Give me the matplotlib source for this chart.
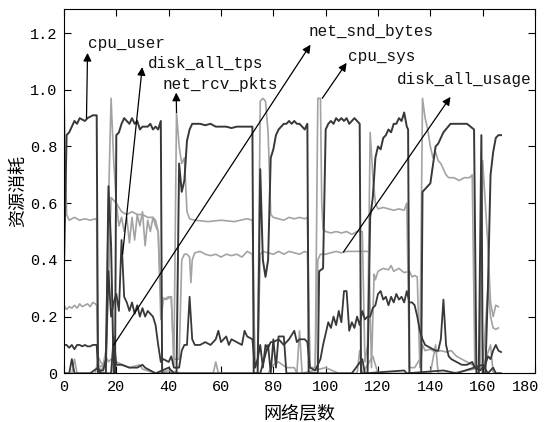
import matplotlib
matplotlib.use('Agg')
import matplotlib.pyplot as plt
import matplotlib.transforms as mtransforms

# ---- data (x = layer index, y = normalised usage) ----
cpu_user_x = [0, 1, 2, 4, 5, 6, 8, 9, 11, 12.5, 13, 16, 17, 18, 19, 19.5, 20, 21, 22, 23, 24, 25, 26,
              27, 28, 29, 30, 32, 33, 34, 35, 36, 37, 37.5, 43, 44, 45, 46, 47, 48, 49, 50, 52, 54, 56,
              58, 60, 62, 64, 66, 68, 70, 72, 72.5, 74, 75, 76, 77, 78, 79, 80, 81, 82, 83, 84, 85, 86,
              87, 88, 89, 90, 91, 92, 93, 93.5, 97, 97.5, 99, 100, 101, 102, 103, 104, 105, 106, 107,
              108, 109, 110, 111, 112, 113, 113.5, 116, 117, 118, 119, 120, 121, 122, 123, 124, 125,
              126, 127, 128, 129, 130, 131, 131.5, 132, 136.5, 137, 140, 142, 143, 145, 147.7, 150,
              154, 156.7, 157.6, 158.5, 159.5, 160, 161, 162, 163, 164, 165, 166, 167]
cpu_user = [0.37, 0.84, 0.85, 0.89, 0.88, 0.90, 0.89, 0.90, 0.91, 0.91, 0.0, 0.0, 0.66, 0.45, 0.0, 0.0,
            0.84, 0.85, 0.88, 0.90, 0.89, 0.88, 0.90, 0.88, 0.89, 0.86, 0.87, 0.87, 0.88, 0.86, 0.87,
            0.86, 0.89, 0.0, 0.0, 0.74, 0.64, 0.68, 0.82, 0.86, 0.88, 0.88, 0.88, 0.875, 0.88, 0.87,
            0.87, 0.87, 0.865, 0.87, 0.87, 0.87, 0.87, 0.0, 0.0, 0.72, 0.40, 0.34, 0.40, 0.76, 0.79,
            0.84, 0.86, 0.87, 0.88, 0.88, 0.89, 0.88, 0.89, 0.88, 0.88, 0.87, 0.86, 0.88, 0.0, 0.0,
            0.36, 0.37, 0.86, 0.88, 0.89, 0.88, 0.90, 0.89, 0.90, 0.89, 0.90, 0.88, 0.89, 0.90, 0.89,
            0.88, 0.0, 0.0, 0.55, 0.62, 0.76, 0.80, 0.79, 0.83, 0.84, 0.86, 0.85, 0.88, 0.88, 0.90,
            0.89, 0.92, 0.87, 0.86, 0.0, 0.0, 0.64, 0.67, 0.80, 0.81, 0.85, 0.88, 0.88, 0.88, 0.86,
            0.0, 0.0, 0.84, 0.0, 0.0, 0.30, 0.70, 0.78, 0.83, 0.84, 0.84]

cpu_sys_x = [0, 1, 2, 4, 6, 8, 10, 12, 12.5, 13, 15, 16, 17, 18, 19, 20, 21, 22, 23, 24, 25, 26, 27,
             28, 29, 30, 31, 32, 33, 34, 35, 36, 37, 38, 40, 41, 42, 43, 44, 45, 46, 47, 48, 50, 55,
             60, 65, 70, 72, 73, 74, 75, 76, 77, 78, 79, 80, 82, 84, 86, 88, 90, 92, 93, 94, 96, 97,
             98, 98.5, 99, 100, 102, 104, 106, 108, 110, 112, 114, 115, 116, 117, 118, 119, 120, 122,
             124, 126, 128, 130, 131, 132, 134, 136, 137, 138, 139, 140, 141, 142, 143, 144, 145, 146,
             147, 149, 151, 153, 155, 156, 157, 159, 160, 161, 162, 163, 164, 165, 166]
cpu_sys = [0.98, 0.56, 0.54, 0.55, 0.54, 0.545, 0.54, 0.545, 0.54, 0.02, 0.03, 0.08, 0.60, 0.97, 0.75,
           0.60, 0.52, 0.55, 0.50, 0.55, 0.46, 0.55, 0.47, 0.56, 0.52, 0.57, 0.45, 0.54, 0.50, 0.55,
           0.52, 0.50, 0.19, 0.26, 0.27, 0.27, 0.03, 0.92, 0.80, 0.74, 0.76, 0.57, 0.545, 0.54, 0.535,
           0.54, 0.535, 0.545, 0.54, 0.02, 0.05, 0.96, 0.97, 0.96, 0.85, 0.56, 0.55, 0.545, 0.54,
           0.55, 0.545, 0.55, 0.545, 0.55, 0.02, 0.02, 0.97, 0.97, 0.60, 0.51, 0.50, 0.495, 0.50,
           0.495, 0.50, 0.49, 0.50, 0.50, 0.04, 0.10, 0.85, 0.70, 0.60, 0.58, 0.585, 0.58, 0.575,
           0.58, 0.575, 0.60, 0.02, 0.02, 0.05, 0.97, 0.90, 0.86, 0.80, 0.76, 0.78, 0.75, 0.74, 0.72,
           0.70, 0.69, 0.69, 0.68, 0.69, 0.69, 0.70, 0.02, 0.02, 0.75, 0.60, 0.45, 0.25, 0.20, 0.24,
           0.235]

disk_usage_x = [0, 1, 2, 3, 4, 5, 6, 7, 8, 9, 10, 11, 12, 12.5, 13, 14, 16, 18, 20, 22, 24, 26, 28,
                30, 32, 34, 35, 36, 37, 39, 41, 42, 44, 45, 46, 47, 48, 48.5, 49, 50, 52, 54, 56, 58,
                60, 62, 64, 66, 68, 70, 72, 73, 74, 75, 76, 78, 80, 82, 84, 86, 88, 90, 92, 93, 94, 96,
                97, 98, 100, 102, 104, 106, 108, 110, 112, 114, 116, 116.5, 117.5, 118.5, 119, 120,
                122, 124, 125, 126, 128, 130, 132, 133, 134, 135, 136, 137, 138, 140, 142, 144, 146,
                148, 150, 152, 154, 156, 157, 158, 160, 162, 163, 164, 165, 166]
disk_usage = [0.24, 0.225, 0.235, 0.23, 0.24, 0.23, 0.245, 0.235, 0.24, 0.245, 0.235, 0.25, 0.245,
              0.24, 0.06, 0.04, 0.02, 0.62, 0.60, 0.57, 0.56, 0.57, 0.56, 0.56, 0.55, 0.55, 0.54,
              0.50, 0.27, 0.26, 0.27, 0.05, 0.05, 0.40, 0.42, 0.42, 0.41, 0.32, 0.40, 0.425, 0.43,
              0.42, 0.415, 0.42, 0.41, 0.42, 0.415, 0.42, 0.41, 0.43, 0.42, 0.02, 0.03, 0.42, 0.43,
              0.425, 0.42, 0.43, 0.42, 0.43, 0.425, 0.42, 0.43, 0.425, 0.02, 0.02, 0.40, 0.42, 0.42,
              0.425, 0.43, 0.425, 0.43, 0.43, 0.43, 0.43, 0.43, 0.43, 0.02, 0.35, 0.33, 0.36, 0.37,
              0.365, 0.38, 0.36, 0.37, 0.355, 0.36, 0.34, 0.345, 0.34, 0.02, 0.10, 0.08, 0.085, 0.075,
              0.08, 0.075, 0.08, 0.06, 0.05, 0.04, 0.03, 0.02, 0.02, 0.02, 0.30, 0.20, 0.16, 0.155,
              0.16]

disk_tps_x = [0, 1, 2, 3, 4, 5, 6, 7, 8, 9, 10, 11, 12, 12.5, 13, 15, 16, 17, 18, 19, 20, 21, 22, 23,
              24, 25, 26, 27, 28, 29, 30, 31, 32, 33, 34, 35, 36, 37, 38, 40, 41, 42, 44, 45, 46, 47,
              48, 49, 50, 52, 54, 56, 58, 59, 60, 62, 63, 64, 66, 68, 69, 70, 72, 73, 74, 75, 76, 77,
              78, 79, 80, 82, 84, 86, 88, 89, 90, 92, 93, 94, 96, 98, 99, 100, 101, 102, 103, 104,
              105, 106, 107, 108, 109, 110, 111, 112, 113, 114, 115, 116, 117, 118, 119, 120, 121,
              122, 123, 124, 125, 126, 127, 128, 129, 130, 131, 132, 133, 134, 135, 136, 137, 138,
              140, 142, 143, 144, 145, 146, 147, 148, 150, 152, 154, 156, 157, 159, 161, 162, 163,
              164, 165, 166, 167]
disk_tps = [0.10, 0.10, 0.09, 0.10, 0.085, 0.10, 0.10, 0.095, 0.10, 0.095, 0.095, 0.10, 0.10, 0.10,
            0.01, 0.01, 0.05, 0.36, 0.20, 0.25, 0.28, 0.22, 0.47, 0.27, 0.25, 0.22, 0.25, 0.21, 0.24,
            0.20, 0.23, 0.20, 0.22, 0.21, 0.20, 0.17, 0.10, 0.04, 0.05, 0.04, 0.06, 0.02, 0.02, 0.08,
            0.10, 0.10, 0.27, 0.12, 0.10, 0.10, 0.11, 0.10, 0.12, 0.15, 0.11, 0.13, 0.10, 0.12, 0.11,
            0.10, 0.15, 0.13, 0.12, 0.02, 0.05, 0.10, 0.02, 0.10, 0.09, 0.11, 0.11, 0.12, 0.10, 0.12,
            0.15, 0.11, 0.12, 0.12, 0.11, 0.02, 0.01, 0.05, 0.10, 0.14, 0.18, 0.16, 0.20, 0.17, 0.22,
            0.18, 0.29, 0.29, 0.15, 0.18, 0.16, 0.20, 0.17, 0.22, 0.19, 0.20, 0.20, 0.23, 0.24, 0.28,
            0.29, 0.26, 0.27, 0.24, 0.27, 0.25, 0.28, 0.26, 0.27, 0.25, 0.29, 0.25, 0.25, 0.24, 0.20,
            0.15, 0.12, 0.10, 0.09, 0.08, 0.08, 0.12, 0.26, 0.10, 0.06, 0.05, 0.04, 0.03, 0.03, 0.04,
            0.02, 0.01, 0.03, 0.06, 0.05, 0.08, 0.10, 0.08, 0.075]

net_snd_x = [0, 2, 3, 4, 10, 13, 14, 17, 18, 19, 20, 22, 25, 28, 30, 31, 35, 40, 42, 52, 70, 75, 78,
             79, 80, 81, 82, 84, 85, 92, 96, 110, 114, 115, 130, 131, 145, 150, 160, 162, 164, 165,
             167]
net_snd = [0.0, 0.0, 0.05, 0.0, 0.0, 0.02, 0.0, 0.0, 0.0, 0.13, 0.03, 0.03, 0.02, 0.02, 0.03, 0.02,
           0.0, 0.02, 0.0, 0.0, 0.0, 0.0, 0.10, 0.0, 0.12, 0.02, 0.13, 0.13, 0.0, 0.0, 0.0, 0.0, 0.05,
           0.0, 0.01, 0.0, 0.01, 0.0, 0.03, 0.0, 0.02, 0.0, 0.0]

net_rcv_x = [0, 3, 4, 5, 12, 13, 14, 16, 17, 18, 20, 25, 29, 30, 35, 40, 45, 57, 58, 59, 73, 78, 80,
             82, 85, 88, 89, 90, 91, 100, 105, 112, 113, 114, 118, 120, 140, 142, 143, 148, 160, 163,
             164, 167]
net_rcv = [0.0, 0.0, 0.05, 0.0, 0.0, 0.05, 0.0, 0.06, 0.04, 0.05, 0.04, 0.02, 0.03, 0.015, 0.0, 0.01,
           0.0, 0.0, 0.04, 0.0, 0.0, 0.0, 0.03, 0.04, 0.02, 0.02, 0.0, 0.15, 0.0, 0.02, 0.0, 0.0,
           0.08, 0.0, 0.06, 0.0, 0.0, 0.10, 0.0, 0.0, 0.02, 0.10, 0.0, 0.0]

# label text, text anchor (left x, centre y), arrow tail (on the curve), arrow head (next to text)
labels = ['cpu_user', 'disk_all_tps', 'net_rcv_pkts', 'net_snd_bytes', 'cpu_sys', 'disk_all_usage']
text_pos = [(9.0, 1.165), (31.9, 1.094), (37.8, 1.018), (93.6, 1.206), (108.4, 1.118), (127.3, 1.035)]
arrow_tail = [(8.6, 0.90), (22.4, 0.42), (43.0, 0.92), (19.0, 0.10), (98.7, 0.97), (106.8, 0.428)]
arrow_head = [(9.0, 1.13), (29.9, 1.08), (42.9, 0.99), (94.2, 1.159), (108.0, 1.095), (147.7, 0.975)]

xticks = [0, 20, 40, 60, 80, 100, 120, 140, 160, 180]
yticks = [0, 0.2, 0.4, 0.6, 0.8, 1.0, 1.2]
ytick_labels = ['0', '0.2', '0.4', '0.6', '0.8', '1.0', '1.2']

plt.rcParams['font.family'] = ['Liberation Mono', 'Noto Sans CJK SC', 'DejaVu Sans']

fig = plt.figure(figsize=(5.45, 4.22), dpi=100)
ax = fig.add_axes([0.1174, 0.1154, 0.8643, 0.8633])

light = '#a3a3a3'
dark = '#383838'
ax.plot(cpu_sys_x, cpu_sys, color=light, lw=1.2)
ax.plot(disk_usage_x, disk_usage, color=light, lw=1.2)
ax.plot(net_rcv_x, net_rcv, color=light, lw=1.2)
ax.plot(disk_tps_x, disk_tps, color=dark, lw=1.3)
ax.plot(net_snd_x, net_snd, color=dark, lw=1.3)
ax.plot(cpu_user_x, cpu_user, color=dark, lw=1.4)

for lab, tp, tail, head in zip(labels, text_pos, arrow_tail, arrow_head):
    ax.annotate('', xy=head, xytext=tail,
                arrowprops=dict(arrowstyle='-|>', color='black', lw=0.9,
                                mutation_scale=12, shrinkA=0, shrinkB=0))
    ax.text(tp[0], tp[1], lab, ha='left', va='center', fontsize=11.5, color='#111111')

ax.set_xlim(0, 180)
ax.set_ylim(0, 1.285)
ax.set_xticks(xticks)
ax.set_yticks(yticks)
ax.set_yticklabels(ytick_labels)
ax.tick_params(direction='in', top=True, right=True, length=5, labelsize=11, pad=5)

# the last x label sits a little left of its tick in the original
last = ax.get_xticklabels()[-1]
last.set_transform(last.get_transform() + mtransforms.ScaledTranslation(-9 / 100, 0, fig.dpi_scale_trans))

ax.set_xlabel('网络层数', family=['Noto Sans CJK SC'], fontsize=13, labelpad=8)
ax.set_ylabel('资源消耗', family=['Noto Sans CJK SC'], fontsize=13, labelpad=2)

fig.savefig('out.png', dpi=100)
